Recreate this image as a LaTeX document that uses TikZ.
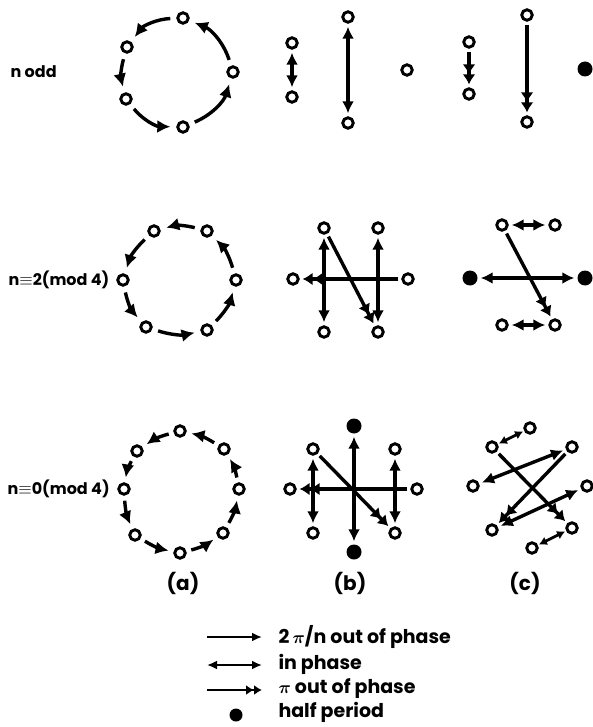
\documentclass[tikz,border=0pt]{standalone}
\usepackage{fontspec}
\setmainfont{Poppins}
\usetikzlibrary{arrows.meta}
\tikzset{
  osc/.style={circle, draw, line width=2.9pt, minimum size=10.5pt, inner sep=0pt},
  half/.style={circle, fill, minimum size=15pt, inner sep=0pt},
  rowlbl/.style={anchor=west, font=\bfseries\fontsize{16}{19}\selectfont},
  sub/.style={font=\bfseries\fontsize{20}{24}\selectfont},
  txt/.style={anchor=west, font=\bfseries\fontsize{19}{22}\selectfont},
  conn/.style={line width=3.4pt, shorten >=3pt, shorten <=3pt},
  lag/.style={conn, -{Latex[length=13pt,width=13pt]}},
  inph/.style={conn, {Latex[length=12pt,width=12pt]}-{Latex[length=12pt,width=12pt]}},
  inphs/.style={conn, line width=2.8pt, shorten >=1pt, shorten <=1pt, {Latex[length=8pt,width=9pt]}-{Latex[length=8pt,width=9pt]}},
  anti/.style={conn, -{Latex[length=10pt,width=13pt]Latex[length=10pt,width=13pt]}},
}
\begin{document}
\begin{tikzpicture}[x=1pt, y=-1pt]
  \useasboundingbox (0,0) rectangle (592,727);

  \node[rowlbl] (lodd) at (7,72) {n odd};
  \node[rowlbl] (ltwo) at (5,280) {n$\equiv$2(mod 4)};
  \node[rowlbl] (lzero) at (4,489) {n$\equiv$0(mod 4)};

  \node[osc] (oa1) at (183,18) {};
  \node[osc] (oa2) at (127,47) {};
  \node[osc] (oa3) at (126,99) {};
  \node[osc] (oa4) at (183,127) {};
  \node[osc] (oa5) at (233,72) {};
  \draw[lag, shorten <=6pt, shorten >=6pt] (oa1) to[bend right=25] (oa2);
  \draw[lag, shorten <=6pt, shorten >=6pt] (oa2) to[bend right=15] (oa3);
  \draw[lag, shorten <=6pt, shorten >=6pt] (oa3) to[bend right=25] (oa4);
  \draw[lag, shorten <=6pt, shorten >=6pt] (oa4) to[bend right=25] (oa5);
  \draw[lag, shorten <=6pt, shorten >=6pt] (oa5) to[bend right=25] (oa1);

  \node[osc] (ob1) at (292,43) {};
  \node[osc] (ob2) at (292,97) {};
  \node[osc] (ob3) at (348,17) {};
  \node[osc] (ob4) at (348,123) {};
  \node[osc] (ob5) at (407,70) {};
  \draw[inph] (ob1) -- (ob2);
  \draw[inph] (ob3) -- (ob4);

  \node[osc] (oc1) at (469,42) {};
  \node[osc] (oc2) at (469,94) {};
  \node[osc] (oc3) at (527,15) {};
  \node[osc] (oc4) at (527,122) {};
  \node[half] (oc5) at (585,69) {};
  \draw[anti] (oc1) -- (oc2);
  \draw[anti] (oc3) -- (oc4);

  \node[osc] (ta1) at (207,231) {};
  \node[osc] (ta2) at (154,231) {};
  \node[osc] (ta3) at (123,280) {};
  \node[osc] (ta4) at (146,327) {};
  \node[osc] (ta5) at (207,330) {};
  \node[osc] (ta6) at (236,280) {};
  \draw[lag, shorten <=6pt, shorten >=6pt] (ta1) to[bend right=15] (ta2);
  \draw[lag, shorten <=6pt, shorten >=6pt] (ta2) to[bend right=15] (ta3);
  \draw[lag, shorten <=6pt, shorten >=6pt] (ta3) to[bend right=15] (ta4);
  \draw[lag, shorten <=6pt, shorten >=6pt] (ta4) to[bend right=15] (ta5);
  \draw[lag, shorten <=6pt, shorten >=6pt] (ta5) to[bend right=15] (ta6);
  \draw[lag, shorten <=6pt, shorten >=6pt] (ta6) to[bend right=15] (ta1);

  \node[osc] (tb1) at (324,228) {};
  \node[osc] (tb2) at (378,228) {};
  \node[osc] (tb3) at (293,279) {};
  \node[osc] (tb4) at (408,279) {};
  \node[osc] (tb5) at (324,332) {};
  \node[osc] (tb6) at (378,332) {};
  \draw[inph] (tb1) -- (tb5);
  \draw[inph] (tb2) -- (tb6);
  \draw[anti] (tb4) -- (tb3);
  \draw[anti] (tb1) -- (tb6);

  \node[osc] (tc1) at (502,225) {};
  \node[osc] (tc2) at (555,225) {};
  \node[half] (tc3) at (470,278) {};
  \node[half] (tc4) at (585,278) {};
  \node[osc] (tc5) at (502,325) {};
  \node[osc] (tc6) at (555,325) {};
  \draw[inph] (tc1) -- (tc2);
  \draw[inph] (tc5) -- (tc6);
  \draw[inph] (tc3) -- (tc4);
  \draw[anti] (tc1) -- (tc6);

  \node[osc] (za1) at (180,431) {};
  \node[osc] (za2) at (137,451) {};
  \node[osc] (za3) at (124,489) {};
  \node[osc] (za4) at (135,535) {};
  \node[osc] (za5) at (180,553) {};
  \node[osc] (za6) at (223,533) {};
  \node[osc] (za7) at (239,489) {};
  \node[osc] (za8) at (224,449) {};
  \draw[lag, shorten <=5pt, shorten >=5pt] (za1) to[bend right=10] (za2);
  \draw[lag, shorten <=5pt, shorten >=5pt] (za2) to[bend right=10] (za3);
  \draw[lag, shorten <=5pt, shorten >=5pt] (za3) to[bend right=10] (za4);
  \draw[lag, shorten <=5pt, shorten >=5pt] (za4) to[bend right=10] (za5);
  \draw[lag, shorten <=5pt, shorten >=5pt] (za5) to[bend right=10] (za6);
  \draw[lag, shorten <=5pt, shorten >=5pt] (za6) to[bend right=10] (za7);
  \draw[lag, shorten <=5pt, shorten >=5pt] (za7) to[bend right=10] (za8);
  \draw[lag, shorten <=5pt, shorten >=5pt] (za8) to[bend right=10] (za1);

  \node[half] (zb1) at (354,426) {};
  \node[osc] (zb2) at (313,449) {};
  \node[osc] (zb3) at (395,449) {};
  \node[osc] (zb4) at (290,489) {};
  \node[osc] (zb5) at (417,489) {};
  \node[osc] (zb6) at (313,533) {};
  \node[osc] (zb7) at (395,533) {};
  \node[half] (zb8) at (354,552) {};
  \draw[inph] (zb2) -- (zb6);
  \draw[inph] (zb3) -- (zb7);
  \draw[inph] (zb1) -- (zb8);
  \draw[anti] (zb5) -- (zb4);
  \draw[anti] (zb2) -- (zb7);

  \node[osc] (zc1) at (492,447) {};
  \node[osc] (zc2) at (530,428) {};
  \node[osc] (zc3) at (572,447) {};
  \node[osc] (zc4) at (473,486) {};
  \node[osc] (zc5) at (587,486) {};
  \node[osc] (zc6) at (492,530) {};
  \node[osc] (zc7) at (572,528) {};
  \node[osc] (zc8) at (532,548) {};
  \draw[inphs] (zc1) -- (zc2);
  \draw[inphs] (zc8) -- (zc7);
  \draw[anti] (zc1) -- (zc7);
  \draw[anti] (zc3) -- (zc6);
  \draw[inph] (zc4) -- (zc3);
  \draw[inph] (zc6) -- (zc5);

  \node[sub] (capa) at (183,583) {(a)};
  \node[sub] (capb) at (350,583) {(b)};
  \node[sub] (capc) at (525,583) {(c)};

  \coordinate (k1a) at (207,637);
  \coordinate (k1b) at (262,637);
  \coordinate (k2a) at (207,665);
  \coordinate (k2b) at (262,665);
  \coordinate (k3a) at (207,690);
  \coordinate (k3b) at (262,690);
  \draw[line width=2.2pt, -{Latex[length=10pt,width=9pt]}] (k1a) -- (k1b);
  \draw[line width=2.2pt, {Latex[length=10pt,width=9pt]}-{Latex[length=10pt,width=9pt]}] (k2a) -- (k2b);
  \draw[line width=2.2pt, -{Latex[length=8pt,width=10pt]Latex[length=8pt,width=10pt]}] (k3a) -- (k3b);
  \node[half, minimum size=13pt] (k4) at (236,715) {};
  \node[txt] (t1) at (275,637) {2\,{\boldmath$\pi$}/n out of phase};
  \node[txt] (t2) at (275,664) {in phase};
  \node[txt] (t3) at (275,689) {{\boldmath$\pi$} out of phase};
  \node[txt] (t4) at (275,712) {half period};
\end{tikzpicture}
\end{document}
